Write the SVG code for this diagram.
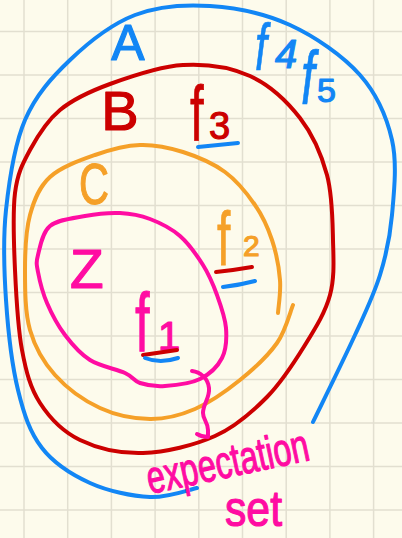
<svg xmlns="http://www.w3.org/2000/svg" width="402" height="538" viewBox="0 0 402 538">
<style>
.bg{fill:#fdfbec}
.grid{stroke:#e2dfd0;stroke-width:1.5;fill:none}
.c{fill:none;stroke-width:4;stroke-linecap:round;stroke-linejoin:round}
.t{font-family:"Liberation Sans",Arial,sans-serif;stroke-width:1.2;stroke-linejoin:round}
.f{font-family:"Liberation Sans",Arial,sans-serif;stroke-width:0.4}
.blue{stroke:#1286f5}
.red{stroke:#cc0000}
.org{stroke:#f5a028}
.mag{stroke:#ff0ca2}
.tb{fill:#1286f5;stroke:#1286f5}
.tr{fill:#cc0000;stroke:#cc0000}
.to{fill:#f5a028;stroke:#f5a028}
.tm{fill:#ff0ca2;stroke:#ff0ca2}
</style>
<rect class="bg" x="0" y="0" width="402" height="538"/>
<path class="grid" d="M24,0V538M67.7,0V538M111.4,0V538M155.1,0V538M198.8,0V538M242.5,0V538M286.2,0V538M329.9,0V538M373.6,0V538M0,31.5H402M0,75H402M0,118.5H402M0,162H402M0,205.5H402M0,249H402M0,292.5H402M0,336H402M0,379.5H402M0,423H402M0,466.5H402M0,510H402"/>

<g id="set-A">
<path class="c blue" d="M197,488 C189.2,489.5 167.8,497.8 150,497 C132.2,496.2 108,491.2 90,483 C72,474.8 54,463.5 42,448 C30,432.5 24,414.7 18,390 C12,365.3 8,330 6,300 C4,270 2.8,240 6,210 C9.2,180 14.3,145 25,120 C35.7,95 51.7,77.5 70,60 C88.3,42.5 111.7,24 135,15 C158.3,6 184.2,4.3 210,6 C235.8,7.7 265,13.5 290,25 C315,36.5 343,55.8 360,75 C377,94.2 386.7,116.7 392,140 C397.3,163.3 394,192.5 392,215 C390,237.5 386.2,255 380,275 C373.8,295 366.2,310.5 355,335 C343.8,359.5 320,407.5 313,422"/>
<text class="t tb" x="128" y="60" font-size="50" text-anchor="middle">A</text>
</g>

<g id="set-B">
<path class="c red" d="M15,193 C17.5,173 22.5,163.8 30,150 C37.5,136.2 46.7,121 60,110 C73.3,99 89.5,91.5 110,84 C130.5,76.5 159.7,66.3 183,65 C206.3,63.7 230.5,67.2 250,76 C269.5,84.8 287.2,101.5 300,118 C312.8,134.5 321.5,154.7 327,175 C332.5,195.3 332.5,220 333,240 C333.5,260 334.7,277.5 330,295 C325.3,312.5 315.5,328 305,345 C294.5,362 282,381.8 267,397 C252,412.2 235.7,426.7 215,436 C194.3,445.3 165.5,452.3 143,453 C120.5,453.7 97.2,448.3 80,440 C62.8,431.7 49.7,418 40,403 C30.3,388 26.2,372.2 22,350 C17.8,327.8 16.2,296.2 15,270 C13.8,243.8 12.5,213 15,193 Z"/>
<text class="t tr" x="120" y="130" font-size="56" text-anchor="middle">B</text>
</g>

<g id="set-C">
<path class="c org" d="M278,313 C278.3,307.5 281,292.2 280,280 C279,267.8 276.2,252.5 272,240 C267.8,227.5 262.8,216.3 255,205 C247.2,193.7 237,180.8 225,172 C213,163.2 197.2,156.5 183,152 C168.8,147.5 154.7,144.5 140,145 C125.3,145.5 110,149.7 95,155 C80,160.3 60.8,167 50,177 C39.2,187 34.2,199.5 30,215 C25.8,230.5 25,250.8 25,270 C25,289.2 25,312.5 30,330 C35,347.5 43.3,362 55,375 C66.7,388 84.2,400.7 100,408 C115.8,415.3 134.2,418.8 150,419 C165.8,419.2 180,415.5 195,409 C210,402.5 226.3,391 240,380 C253.7,369 268.2,355.5 277,343 C285.8,330.5 290.3,311.3 293,305"/>
<text class="t to" x="79" y="204" font-size="58" textLength="30" lengthAdjust="spacingAndGlyphs">C</text>
</g>

<g id="set-Z">
<path class="c mag" d="M38,255 C40,247.3 42.2,232.5 50,226 C57.8,219.5 73.3,218.2 85,216 C96.7,213.8 109.2,212.5 120,213 C130.8,213.5 140,215.2 150,219 C160,222.8 171.2,228.3 180,236 C188.8,243.7 196.8,255.2 203,265 C209.2,274.8 213.2,284.5 217,295 C220.8,305.5 225.2,317.5 226,328 C226.8,338.5 226.3,349.5 222,358 C217.7,366.5 209.5,374.3 200,379 C190.5,383.7 175,385.3 165,386 C155,386.7 146.7,385.2 140,383 C133.3,380.8 133.3,376.8 125,373 C116.7,369.2 100,366.3 90,360 C80,353.7 72.2,344.5 65,335 C57.8,325.5 51.5,313.5 47,303 C42.5,292.5 39.5,280 38,272 C36.5,264 36,262.7 38,255 Z"/>
<text class="t tm" x="70" y="288" font-size="55">Z</text>
</g>

<g id="f1">
<text class="f tm" font-size="44" transform="translate(135,352) scale(1.2,1.9)">f</text>
<text class="t tm" x="158" y="350" font-size="40">1</text>
<path class="c red" d="M143,355 L177,350"/>
<path class="c blue" d="M145,358 Q160,364 178,358"/>
</g>

<g id="f2">
<text class="f to" font-size="40" transform="translate(217,265) scale(1.2,1.9)">f</text>
<text class="t to" x="243" y="256" font-size="30">2</text>
<path class="c red" d="M216,272 Q235,270 252,267"/>
<path class="c blue" d="M223,287 Q240,285 255,281"/>
</g>

<g id="f3">
<text class="f tr" font-size="41" transform="translate(190,141) scale(1.2,1.9)">f</text>
<text class="t tr" x="209" y="139" font-size="38">3</text>
<path class="c blue" d="M198,147 Q218,145 238,143"/>
</g>

<g id="f4">
<text class="f tb" font-size="36" font-style="italic" transform="translate(255,70) scale(1.2,1.85)">f</text>
<text class="t tb" x="275" y="68" font-size="40" font-style="italic">4</text>
</g>

<g id="f5">
<text class="f tb" font-size="41" font-style="italic" transform="translate(301,104) scale(1.2,1.85)">f</text>
<text class="t tb" x="317" y="102" font-size="34">5</text>
</g>

<g id="connectors">
<path class="c mag" d="M192,371 C200,372 208,378 209,388 C210,398 203,404 203,413 C203,420 208,422 208,430 L208,437 Q202,437 197,434"/>
</g>

<g id="expectation-set">
<text class="t tm" x="150" y="494" font-size="46" textLength="165" lengthAdjust="spacingAndGlyphs" transform="rotate(-12 150 494)">expectation</text>
<text class="t tm" x="225" y="526" font-size="50" textLength="57" lengthAdjust="spacingAndGlyphs">set</text>
</g>
</svg>
